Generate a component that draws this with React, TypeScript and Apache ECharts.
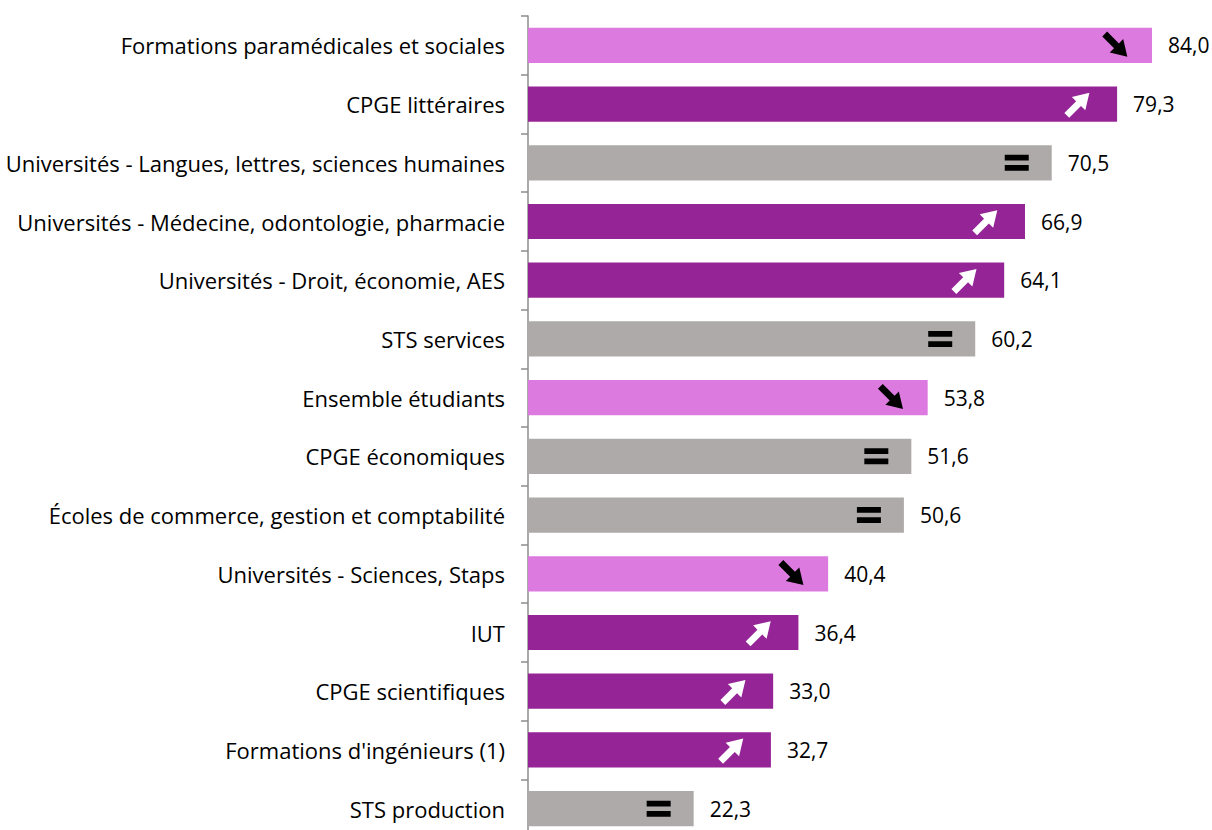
import React, { useEffect, useRef } from "react";
import * as echarts from "echarts";

const categories = [
  "Formations paramédicales et sociales",
  "CPGE littéraires",
  "Universités - Langues, lettres, sciences humaines",
  "Universités - Médecine, odontologie, pharmacie",
  "Universités - Droit, économie, AES",
  "STS services",
  "Ensemble étudiants",
  "CPGE économiques",
  "Écoles de commerce, gestion et comptabilité",
  "Universités - Sciences, Staps",
  "IUT",
  "CPGE scientifiques",
  "Formations d'ingénieurs (1)",
  "STS production",
];
const values = [84.0, 79.3, 70.5, 66.9, 64.1, 60.2, 53.8, 51.6, 50.6, 40.4, 36.4, 33.0, 32.7, 22.3];
const trends = ["down", "up", "eq", "up", "up", "eq", "down", "eq", "eq", "down", "up", "up", "up", "eq"];

const COLORS: Record<string, string> = { down: "#DD7ADF", up: "#952596", eq: "#AEAAAA" };
const ARROW = "path://M0,32 L52,32 L52,0 L100,50 L52,100 L52,68 L0,68 Z";
const EQUALS = "path://M0,0 L100,0 L100,36 L0,36 Z M0,64 L100,64 L100,100 L0,100 Z";

export default function App() {
  const ref = useRef<HTMLDivElement>(null);
  useEffect(() => {
    document.body.style.margin = "0";
    document.body.style.overflow = "hidden";
    document.documentElement.style.overflow = "hidden";
    const chart = echarts.init(ref.current!, null, { renderer: "svg" });
    const font = "'Open Sans', sans-serif";
    chart.setOption({
      animation: false,
      grid: { left: 528, top: 16, width: 668.6, height: 822, containLabel: false },
      xAxis: { type: "value", min: 0, max: 90, show: false },
      yAxis: {
        type: "category",
        data: categories,
        inverse: true,
        axisLine: { show: true, lineStyle: { color: "#8C8C8C", width: 1.5 } },
        axisTick: { show: true, length: 7, lineStyle: { color: "#8C8C8C", width: 1.5 } },
        axisLabel: { margin: 23, fontSize: 22, color: "#000", fontFamily: font },
      },
      series: [
        {
          type: "bar",
          barCategoryGap: "40%",
          data: values.map((v, i) => ({ value: v, itemStyle: { color: COLORS[trends[i]] } })),
          label: {
            show: true,
            position: "right",
            distance: 16,
            fontSize: 21,
            color: "#000",
            fontFamily: font,
            formatter: (p: any) => Number(p.value).toFixed(1).replace(".", ","),
          },
        },
        {
          type: "scatter",
          z: 5,
          silent: true,
          data: values.map((v, i) => {
            const t = trends[i];
            if (t === "eq") {
              return {
                value: [v, i],
                symbol: EQUALS,
                symbolSize: [24, 16],
                symbolOffset: [-35, 0],
                itemStyle: { color: "#000", opacity: 1 },
              };
            }
            return {
              value: [v, i],
              symbol: ARROW,
              symbolSize: [32, 19],
              symbolRotate: t === "up" ? 45 : -45,
              symbolOffset: t === "up" ? [-39, 0] : [-36, 0],
              itemStyle: { color: t === "up" ? "#FFFFFF" : "#000000", opacity: 1 },
            };
          }),
        },
      ],
    });
    return () => chart.dispose();
  }, []);
  return <div ref={ref} style={{ width: 1212, height: 840 }} />;
}
